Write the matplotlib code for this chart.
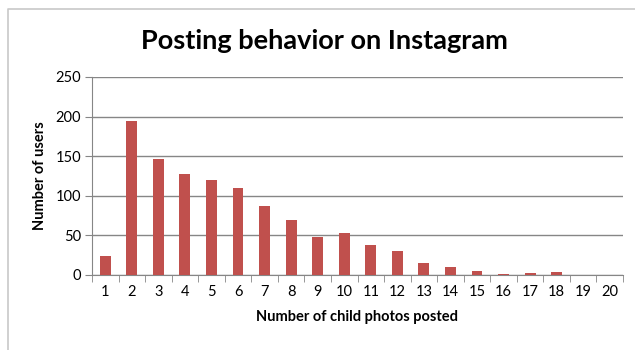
import matplotlib.pyplot as plt
from matplotlib.lines import Line2D
import numpy as np

# data
photos = list(range(1, 21))
users = [23.5, 194, 146, 127, 120, 110, 87, 69, 48.5, 53, 37.5, 30, 15.5, 9.5, 5.5, 1, 2.5, 3.5, 0, 0]

plt.rcParams['font.family'] = ['Lato', 'DejaVu Sans']

fig = plt.figure(figsize=(6.35, 3.5), dpi=100)
# chart area border (only top and left visible in the crop)
bx, by = 7.5/635, 1 - 8.5/350
fig.lines.append(Line2D([bx, bx, 1.0], [0, by, by], transform=fig.transFigure,
                        color='#c8c8c8', linewidth=1.2))

ax = fig.add_axes([92/635, 75/350, (623-92)/635, (275-77)/350])
x = np.arange(len(photos))
ax.bar(x, users, width=0.41, color='#C0504D', zorder=3)

ax.set_xlim(-0.5, len(photos) - 0.5)
ax.set_ylim(0, 250)
ax.set_yticks([0, 50, 100, 150, 200, 250])
ax.set_xticks(x)
ax.set_xticklabels([str(p) for p in photos])
ax.set_xticks(np.arange(-0.5, len(photos)), minor=True)
ax.tick_params(axis='x', which='major', length=0, labelsize=10.5, pad=7)
ax.tick_params(axis='x', which='minor', length=5, color='#868686', direction='out')
ax.tick_params(axis='y', length=5, color='#868686', labelsize=10.5, pad=3)

ax.yaxis.grid(True, color='#868686', linewidth=1, zorder=0)
for s in ['top', 'right']:
    ax.spines[s].set_visible(False)
ax.spines['left'].set_color('#868686')
ax.spines['bottom'].set_color('#868686')

ax.set_xlabel('Number of child photos posted', fontsize=10.5, fontweight='bold', labelpad=8)
ax.set_ylabel('Number of users', fontsize=10.5, fontweight='bold', labelpad=6)
fig.text(324/635, 1 - 41/350, 'Posting behavior on Instagram', ha='center', va='center',
         fontsize=19.5, fontweight='bold')

plt.savefig('out.png', dpi=100)
